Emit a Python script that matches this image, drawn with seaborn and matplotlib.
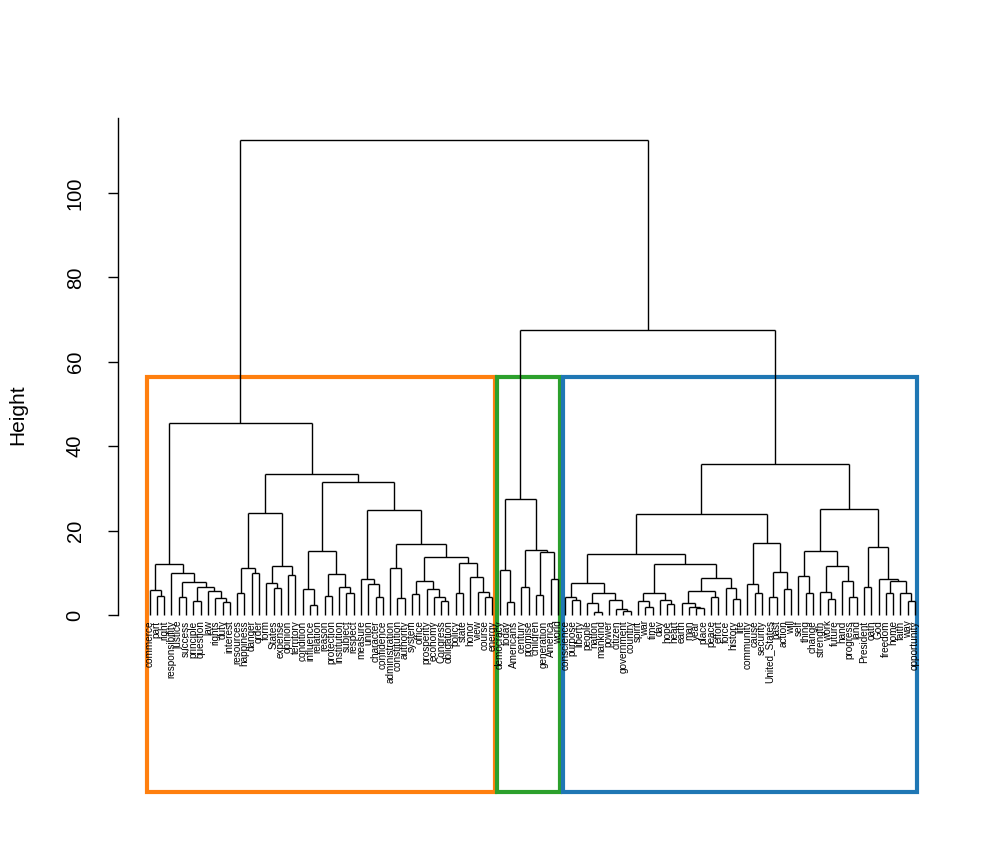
import matplotlib
matplotlib.use("Agg")
import matplotlib.pyplot as plt
import matplotlib.patches as patches
import seaborn as sns

# cluster trees in newick form, number after ")" = merge height
orange_tree = (
    "(((commerce,(part,right)4.5)5.9,(responsibility,((justice,success)4.2,"
    "((principle,question)3.2,(law,(rights,(duty,interest)3.1)4.0)5.6)6.7)7.9)9.9)12.1,"
    "((((resources,happiness)5.3,(danger,order)9.9)11.1,((form,(States,expense)6.3)7.5,"
    "(opinion,territory)9.4)11.6)24.2,(((condition,(influence,relation)2.3)6.2,"
    "((reason,protection)4.6,(institution,(subject,respect)5.3)6.7)9.7)15.2,"
    "((measure,(union,(character,confidence)4.2)7.3)8.5,((administration,"
    "(constitution,authority)4.0)11.1,(((system,office)5.0,(prosperity,(economy,"
    "(Congress,obligation)3.4)4.3)6.1)8.1,((policy,state)5.2,(honor,(view,"
    "(course,energy)4.3)5.5)9.0)12.3)13.8)16.8)25.0)31.6)33.4)45.4"
)
green_tree = (
    "((democracy,(today,Americans)3.1)10.7,((century,promise)6.6,"
    "((children,generation)4.7,(America,world)8.5)14.9)15.4)27.5"
)
blue_tree = (
    "(((((conscience,(purpose,liberty)3.6)4.2,((people,(nation,mankind)0.8)2.8,"
    "(power,(citizen,(government,country)1.0)1.4)3.6)5.1)7.7,"
    "(((spirit,(war,time)2.0)3.2,(day,(hope,heart)2.5)3.6)5.3,"
    "(((earth,(man,(year,place)1.6)2.0)2.9,(peace,effort)4.2)5.7,"
    "(force,(history,life)3.8)6.3)8.7)12.1)14.5,"
    "((community,(cause,security)5.1)7.3,((United_States,past)4.2,"
    "(action,will)6.1)10.3)17.1)23.9,"
    "(((self,(thing,change)5.1)9.2,((strength,(work,future)3.8)5.5,"
    "(hand,(progress,land)4.3)8.1)11.6)15.2,((President,oath)6.7,"
    "(God,((freedom,home)5.1,(faith,(way,opportunity)3.2)5.1)8.0)8.5)16.0)25.1)35.8"
)
green_blue_height = 67.5
root_height = 112.6
yticks = [0, 20, 40, 60, 80, 100]


def parse(s):
    pos = 0

    def node():
        nonlocal pos
        if s[pos] == "(":
            pos += 1
            kids = [node()]
            while s[pos] == ",":
                pos += 1
                kids.append(node())
            pos += 1
            start = pos
            while pos < len(s) and (s[pos].isdigit() or s[pos] == "."):
                pos += 1
            return (kids, float(s[start:pos]))
        start = pos
        while s[pos] not in ",)":
            pos += 1
        return s[start:pos]

    return node()


def count_leaves(n):
    if isinstance(n, str):
        return 1
    return sum(count_leaves(k) for k in n[0])


orange = parse(orange_tree)
green = parse(green_tree)
blue = parse(blue_tree)
root = ([orange, ([green, blue], green_blue_height)], root_height)
sizes = [count_leaves(orange), count_leaves(green), count_leaves(blue)]

sns.set_style("white")
plt.rcParams["font.family"] = ["Liberation Sans", "DejaVu Sans"]
for key in ["text.color", "axes.edgecolor", "axes.labelcolor", "xtick.color", "ytick.color"]:
    plt.rcParams[key] = "black"
colors = sns.color_palette("tab10")
box_colors = [colors[1], colors[2], colors[0]]

fig = plt.figure(figsize=(10.08, 8.64), dpi=100)
# pixel layout: leaf i at 149.6 + 7.29 i, height h at 615 - 4.22 h
x_lo = (118 - 149.6) / 7.29
x_hi = (960 - 149.6) / 7.29
y_lo = -(792 - 615) / 4.22
y_hi = (615 - 87) / 4.22
ax = fig.add_axes([118 / 1008, (864 - 792) / 864, (960 - 118) / 1008, (792 - 87) / 864])
ax.set_xlim(x_lo, x_hi)
ax.set_ylim(y_lo, y_hi)

labels = []


def draw(n):
    if isinstance(n, str):
        labels.append(n)
        return len(labels) - 1, 0.0
    kids, h = n
    pts = [draw(k) for k in kids]
    for x, ch in pts:
        ax.plot([x, x], [ch, h], color="black", lw=1.0, solid_capstyle="butt")
    ax.plot([pts[0][0], pts[-1][0]], [h, h], color="black", lw=1.0, solid_capstyle="butt")
    return (pts[0][0] + pts[-1][0]) / 2, h


draw(root)

for i, name in enumerate(labels):
    ax.text(i, -1.3, name, rotation=90, ha="center", va="top", fontsize=7.2)

# cluster boxes
top = (orange[1] + green_blue_height) / 2
start = 0
for size, c in zip(sizes, box_colors):
    x0 = start - 1 + 0.66
    x1 = start + size - 1 + 0.33
    ax.add_patch(patches.Rectangle((x0, y_lo), x1 - x0, top - y_lo, fill=False,
                                   edgecolor=c, lw=3, clip_on=False))
    start += size

sns.despine(ax=ax, bottom=True)
ax.spines["left"].set_bounds(0, 117.7)
ax.spines["left"].set_linewidth(1.0)
ax.set_xticks([])
ax.set_yticks(yticks)
ax.set_yticklabels([str(t) for t in yticks], rotation=90, va="center", fontsize=14.5)
ax.tick_params(axis="y", length=7, width=1.0, pad=17, direction="out", left=True)
fig.text(18 / 1008, 1 - 415 / 864, "Height", rotation=90, ha="center", va="center", fontsize=15)

fig.savefig("out.png", dpi=100)
